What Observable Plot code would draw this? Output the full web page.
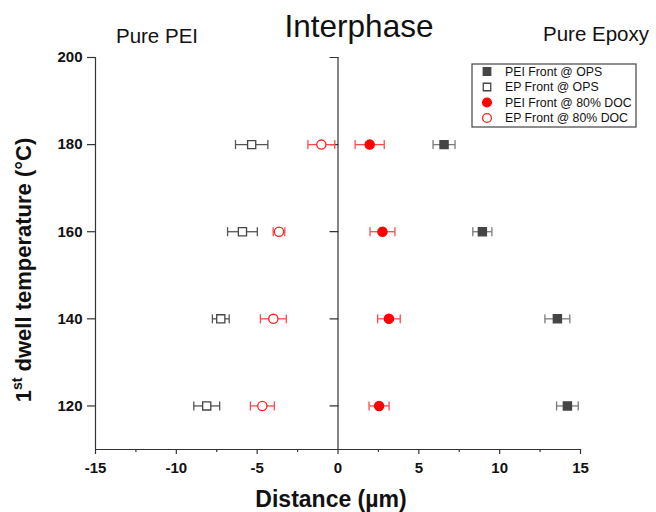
<!DOCTYPE html>
<html><head><meta charset="utf-8">
<script src="https://cdn.jsdelivr.net/npm/d3@7"></script>
<script src="https://cdn.jsdelivr.net/npm/@observablehq/plot@0.6"></script>
<style>body{margin:0;background:#fff} svg{display:block}</style>
</head><body><div id="chart"></div>
<script>
// ---- data ----
const temps = [180, 160, 140, 120];
const seriesNames = ["PEI Front @ OPS", "EP Front @ OPS", "PEI Front @ 80% DOC", "EP Front @ 80% DOC"];
const peiOps    = [6.56, 8.93, 13.57, 14.19];
const peiOpsErr = [0.68, 0.59, 0.77, 0.67];
const epOps     = [-5.34, -5.91, -7.25, -8.12];
const epOpsErr  = [1.0, 0.92, 0.52, 0.8];
const pei80     = [1.96, 2.75, 3.15, 2.54];
const pei80Err  = [0.9, 0.77, 0.7, 0.62];
const ep80      = [-1.03, -3.65, -4.0, -4.68];
const ep80Err   = [0.83, 0.36, 0.8, 0.74];
const xTicks = [-15, -10, -5, 0, 5, 10, 15];
const xMinorTicks = [-12.5, -7.5, -2.5, 2.5, 7.5, 12.5];
const yTicks = [120, 140, 160, 180, 200];
const regionLabels = ["Pure PEI", "Interphase", "Pure Epoxy"];

const values = [peiOps, epOps, pei80, ep80];
const errors = [peiOpsErr, epOpsErr, pei80Err, ep80Err];

// ---- styles ----
const styles = [
  {symbol: "square", fill: "#454545", stroke: "#454545", bar: "#7a7a7a"},
  {symbol: "square", fill: "#fff", stroke: "#454545", bar: "#555"},
  {symbol: "circle", fill: "#ff0000", stroke: "#ff0000", bar: "#ff4a4a"},
  {symbol: "circle", fill: "#fff", stroke: "#ff2020", bar: "#ff4a4a"}
];

const series = seriesNames.map((name, i) => ({
  name, style: styles[i],
  rows: temps.map((t, j) => ({y: t, x: values[i][j], e: errors[i][j]}))
}));

const FONT = "'Liberation Sans', Arial, sans-serif";
const lineShape = {draw(ctx, l) { ctx.moveTo(0, 0); ctx.lineTo(0, -l); }};
const AX = "#333";

const marks = [
  Plot.ruleX([-15, 0], {stroke: AX, strokeWidth: 1.2}),
  Plot.ruleY([110], {stroke: AX, strokeWidth: 1.2}),
  Plot.vector(yTicks, {x: 0, y: d => d, length: 8, rotate: -90, anchor: "start", shape: lineShape, stroke: AX, strokeWidth: 1.2}),
  Plot.axisX({ticks: xTicks, tickSize: 5, tickPadding: 8, fontSize: 15, fontWeight: "bold", label: null, tickFormat: d => String(d), stroke: AX, fill: "#111", strokeWidth: 1.2}),
  Plot.axisX({ticks: xMinorTicks, tickSize: 3, label: null, tickFormat: () => "", stroke: AX, strokeWidth: 1.2}),
  Plot.axisY({ticks: yTicks, tickSize: 8, tickPadding: 5, fontSize: 15, fontWeight: "bold", label: null, tickFormat: d => String(d), stroke: AX, fill: "#111", strokeWidth: 1.2})
];

for (const s of series) {
  marks.push(
    Plot.link(s.rows, {x1: d => d.x - d.e, x2: d => d.x + d.e, y1: "y", y2: "y", stroke: s.style.bar, strokeWidth: 1.3}),
    Plot.vector(s.rows, {x: d => d.x - d.e, y: "y", length: 8, anchor: "middle", shape: lineShape, stroke: s.style.bar, strokeWidth: 1.3}),
    Plot.vector(s.rows, {x: d => d.x + d.e, y: "y", length: 8, anchor: "middle", shape: lineShape, stroke: s.style.bar, strokeWidth: 1.3}),
    Plot.dot(s.rows, {x: "x", y: "y", r: 4.6, symbol: s.style.symbol, fill: s.style.fill, stroke: s.style.stroke, strokeWidth: 1.3})
  );
}

const plot = Plot.plot({
  width: 656, height: 512,
  marginTop: 57, marginBottom: 63, marginLeft: 95, marginRight: 76,
  style: {fontFamily: FONT, background: "#fff", overflow: "visible"},
  x: {domain: [-15, 15]},
  y: {domain: [110, 200]},
  marks
});

const svg = d3.select(plot);

// region titles
const titleSpecs = [
  {x: 157, y: 43, size: 20.5},
  {x: 359, y: 37, size: 31.5},
  {x: 596, y: 41, size: 20.5}
];
regionLabels.forEach((t, i) => {
  svg.append("text").attr("x", titleSpecs[i].x).attr("y", titleSpecs[i].y)
    .attr("text-anchor", "middle").attr("font-family", FONT)
    .attr("font-size", titleSpecs[i].size).attr("fill", "#111").text(t);
});

// axis labels
svg.append("text").attr("x", 331).attr("y", 507).attr("text-anchor", "middle")
  .attr("font-family", FONT).attr("font-size", 23).attr("font-weight", "bold").attr("fill", "#111")
  .text("Distance (µm)");

const yl = svg.append("text").attr("transform", "translate(31,270) rotate(-90)")
  .attr("text-anchor", "middle").attr("font-family", FONT).attr("font-size", 22)
  .attr("font-weight", "bold").attr("fill", "#111");
yl.append("tspan").text("1");
yl.append("tspan").attr("font-size", 14).attr("dy", -9).text("st");
yl.append("tspan").attr("dy", 9).text(" dwell temperature (°C)");

// legend
const lg = svg.append("g").attr("transform", "translate(472,64)");
lg.append("rect").attr("width", 164).attr("height", 63).attr("fill", "#fff")
  .attr("stroke", "#444").attr("stroke-width", 1.2);
series.forEach((s, i) => {
  const cy = 7.5 + i * 15.5;
  const sym = s.style.symbol === "square" ? d3.symbolSquare : d3.symbolCircle;
  lg.append("path").attr("transform", `translate(15,${cy})`)
    .attr("d", d3.symbol(sym, s.style.symbol === "square" ? 56 : 60)())
    .attr("fill", s.style.fill).attr("stroke", s.style.stroke).attr("stroke-width", 1.3);
  lg.append("text").attr("x", 33).attr("y", cy + 4.3).attr("text-anchor", "start")
    .attr("font-family", FONT).attr("font-size", 12.3).attr("fill", "#111").text(s.name);
});

document.getElementById("chart").append(plot);
</script>
</body></html>
